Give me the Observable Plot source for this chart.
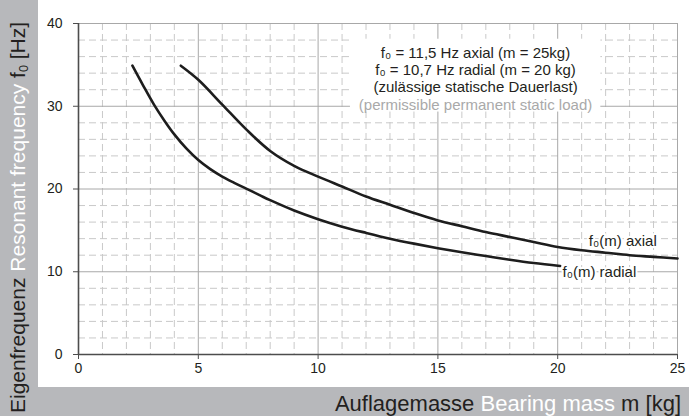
<!DOCTYPE html>
<html><head><meta charset="utf-8">
<script src="https://cdn.jsdelivr.net/npm/d3@7"></script>
<script src="https://cdn.jsdelivr.net/npm/@observablehq/plot@0.6"></script>
<style>
body{margin:0;}
#wrap{position:relative;width:689px;height:416px;background:#b7b8bb;overflow:hidden;font-family:"Liberation Sans",Arial,sans-serif;}
#chart{position:absolute;left:38px;top:0;width:651px;height:387px;background:#fff;}
#chart svg{display:block;}
#ylab{position:absolute;left:0;top:416px;width:416px;height:38px;transform:rotate(-90deg);transform-origin:0 0;font-size:21px;line-height:21px;padding-top:7px;padding-left:3px;box-sizing:border-box;white-space:nowrap;color:#231f20;}
#xlab{position:absolute;left:0;top:387px;width:681px;height:29px;text-align:right;font-size:22px;line-height:22px;padding-top:6px;box-sizing:border-box;white-space:nowrap;color:#231f20;}
.w{color:#fff;}
sub{font-size:0.6em;vertical-align:-0.25em;line-height:0;}
</style>
</head><body>
<div id="wrap">
  <div id="chart"></div>
  <div id="ylab">Eigenfrequenz <span class="w">Resonant frequency</span> f<sub>0</sub> [Hz]</div>
  <div id="xlab">Auflagemasse <span class="w">Bearing mass</span> m [kg]</div>
</div>
<script>
// Radial curve f0(m)
const radialMass = [2.25, 2.7, 3.15, 3.6, 4.0, 4.5, 5.0, 5.5, 6.0, 6.5, 7.0, 7.6, 8.0, 9, 10, 11, 12, 13, 14, 15, 16, 17, 18, 19, 20.1];
const radialFreq = [34.9, 32.5, 30.2, 28.2, 26.6, 24.9, 23.5, 22.4, 21.5, 20.75, 20.05, 19.2, 18.65, 17.4, 16.35, 15.45, 14.7, 14.0, 13.4, 12.85, 12.35, 11.9, 11.45, 11.05, 10.7];
// Axial curve f0(m)
const axialMass = [4.27, 5.0, 6.0, 7.0, 8.0, 9.0, 10, 11, 12, 13, 14, 15, 16, 17, 18, 19, 20, 21, 22, 23, 24, 25];
const axialFreq = [34.9, 33.2, 30.2, 27.2, 24.6, 22.8, 21.5, 20.3, 19.1, 18.1, 17.1, 16.2, 15.5, 14.8, 14.2, 13.6, 13.0, 12.6, 12.3, 12.0, 11.8, 11.6];

const xTicks = [0, 5, 10, 15, 20, 25];
const yTicks = [0, 10, 20, 30, 40];
const xMinor = [1, 2, 3, 4, 6, 7, 8, 9, 11, 12, 13, 14, 16, 17, 18, 19, 21, 22, 23, 24];
const yMinor = [2, 4, 6, 8, 12, 14, 16, 18, 22, 24, 26, 28, 32, 34, 36, 38];

const noteLines = ["f₀ = 11,5 Hz axial (m = 25kg)", "f₀ = 10,7 Hz radial (m = 20 kg)", "(zulässige statische Dauerlast)"];
const noteLineEn = "(permissible permanent static load)";
const curveLabels = ["f₀(m) axial", "f₀(m) radial"];

// annotation placement (data coordinates)
const noteX = 16.57;
const noteY = [36.45, 34.35, 32.25];
const noteYEn = 30.15;
const noteBox = {x1: 11.35, x2: 21.8, y1: 29.3, y2: 38.1};
const curveLabelX = [21.3, 20.2];
const curveLabelY = [13.7, 9.9];

const radial = radialMass.map((m, i) => ({m, f: radialFreq[i]}));
const axial = axialMass.map((m, i) => ({m, f: axialFreq[i]}));
const notes = noteLines.map((t, i) => ({t, x: noteX, y: noteY[i]}));
const labels = curveLabels.map((t, i) => ({t, x: curveLabelX[i], y: curveLabelY[i]}));

const chart = Plot.plot({
  width: 651,
  height: 387,
  marginLeft: 40,
  marginRight: 12,
  marginTop: 23,
  marginBottom: 33,
  x: {domain: [0, 25]},
  y: {domain: [0, 40]},
  style: {background: "transparent", fontFamily: "'Liberation Sans', Arial, sans-serif", fontSize: "14px", color: "#231f20"},
  marks: [
    Plot.gridX(xMinor, {stroke: "#c9c9c9", strokeOpacity: 1, strokeWidth: 1, strokeDasharray: "7,4"}),
    Plot.gridY(yMinor, {stroke: "#c9c9c9", strokeOpacity: 1, strokeWidth: 1, strokeDasharray: "7,4"}),
    Plot.gridX(xTicks.filter(d => d > 0), {stroke: "#a8a8a8", strokeOpacity: 1, strokeWidth: 1}),
    Plot.gridY(yTicks.filter(d => d > 0), {stroke: "#a8a8a8", strokeOpacity: 1, strokeWidth: 1}),
    Plot.rect([noteBox], {x1: "x1", x2: "x2", y1: "y1", y2: "y2", fill: "white"}),
    Plot.line(radial, {x: "m", y: "f", curve: "catmull-rom", stroke: "#1d1d1d", strokeWidth: 2.6}),
    Plot.line(axial, {x: "m", y: "f", curve: "catmull-rom", stroke: "#1d1d1d", strokeWidth: 2.6}),
    Plot.text(notes, {x: "x", y: "y", text: "t", fontSize: 15, fill: "#231f20", textAnchor: "middle"}),
    Plot.text([noteLineEn], {x: () => noteX, y: () => noteYEn, text: d => d, fontSize: 15, fill: "#a9a9a9", textAnchor: "middle"}),
    Plot.text(labels, {x: "x", y: "y", text: "t", fontSize: 15, fill: "#231f20", textAnchor: "start", stroke: "white", strokeWidth: 4}),
    Plot.ruleX([0], {stroke: "#4d4d4d", strokeWidth: 1.6}),
    Plot.ruleY([0], {stroke: "#4d4d4d", strokeWidth: 1.6}),
    Plot.axisX(xTicks, {tickSize: 5, tickPadding: 4, fontSize: 14, label: null, stroke: "#4d4d4d", fill: "#231f20"}),
    Plot.axisY(yTicks, {tickSize: 5, tickPadding: 11, fontSize: 14, label: null, stroke: "#4d4d4d", fill: "#231f20"})
  ]
});
document.getElementById("chart").appendChild(chart);
</script>
</body></html>
